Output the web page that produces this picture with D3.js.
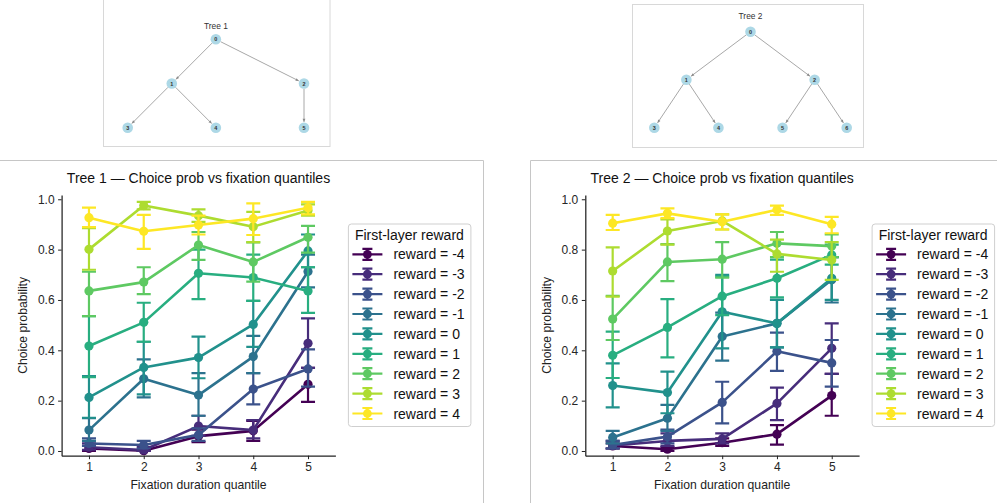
<!DOCTYPE html>
<html>
<head>
<meta charset="utf-8">
<script src="https://cdn.jsdelivr.net/npm/d3@7"></script>
<style>
  body { margin: 0; background: #fff; }
  svg { display: block; font-family: "Liberation Sans", Arial, sans-serif; }
</style>
</head>
<body>
<svg id="fig" width="997" height="503"></svg>
<script>
// ---- data ----
const quantiles = [1, 2, 3, 4, 5];
const rewards = [-4, -3, -2, -1, 0, 1, 2, 3, 4];
const yTickValues = [0, 0.2, 0.4, 0.6, 0.8, 1.0];

// Tree 1: mean choice probability per first-layer reward (rows) and quantile (cols)
const tree1Mean = [
  [0.010, 0.001, 0.059, 0.080, 0.265],
  [0.015, 0.004, 0.099, 0.083, 0.428],
  [0.030, 0.024, 0.064, 0.246, 0.326],
  [0.083, 0.287, 0.222, 0.375, 0.713],
  [0.213, 0.332, 0.371, 0.503, 0.795],
  [0.417, 0.511, 0.706, 0.689, 0.636],
  [0.636, 0.671, 0.818, 0.751, 0.849],
  [0.801, 0.975, 0.935, 0.891, 0.955],
  [0.927, 0.873, 0.898, 0.923, 0.966]
];
const tree1Lo = [
  [0.000, 0.000, 0.035, 0.040, 0.195],
  [0.005, 0.000, 0.060, 0.050, 0.330],
  [0.020, 0.010, 0.040, 0.185, 0.256],
  [0.040, 0.213, 0.140, 0.309, 0.650],
  [0.132, 0.225, 0.289, 0.414, 0.730],
  [0.293, 0.434, 0.603, 0.596, 0.549],
  [0.536, 0.623, 0.759, 0.673, 0.788],
  [0.720, 0.960, 0.910, 0.830, 0.935],
  [0.889, 0.803, 0.860, 0.858, 0.940]
];
const tree1Hi = [
  [0.020, 0.005, 0.085, 0.120, 0.330],
  [0.030, 0.015, 0.140, 0.123, 0.527],
  [0.050, 0.040, 0.090, 0.309, 0.404],
  [0.130, 0.364, 0.309, 0.457, 0.780],
  [0.298, 0.434, 0.454, 0.596, 0.860],
  [0.536, 0.589, 0.800, 0.780, 0.730],
  [0.712, 0.730, 0.870, 0.829, 0.894],
  [0.885, 0.990, 0.960, 0.950, 0.980],
  [0.967, 0.938, 0.935, 0.984, 0.990]
];

// Tree 2
const tree2Mean = [
  [0.020, 0.007, 0.033, 0.067, 0.220],
  [0.022, 0.040, 0.048, 0.189, 0.408],
  [0.024, 0.057, 0.193, 0.396, 0.350],
  [0.054, 0.130, 0.455, 0.507, 0.680],
  [0.260, 0.232, 0.553, 0.507, 0.686],
  [0.380, 0.491, 0.615, 0.686, 0.779],
  [0.524, 0.751, 0.762, 0.825, 0.814],
  [0.715, 0.874, 0.914, 0.783, 0.759],
  [0.905, 0.944, 0.911, 0.958, 0.901]
];
const tree2Lo = [
  [0.010, 0.000, 0.020, 0.025, 0.140],
  [0.010, 0.020, 0.030, 0.123, 0.306],
  [0.010, 0.030, 0.110, 0.318, 0.256],
  [0.030, 0.080, 0.359, 0.412, 0.590],
  [0.173, 0.150, 0.408, 0.412, 0.600],
  [0.290, 0.372, 0.540, 0.610, 0.740],
  [0.441, 0.675, 0.689, 0.770, 0.770],
  [0.613, 0.820, 0.880, 0.712, 0.680],
  [0.878, 0.925, 0.880, 0.938, 0.865]
];
const tree2Hi = [
  [0.030, 0.015, 0.050, 0.103, 0.306],
  [0.040, 0.070, 0.070, 0.252, 0.507],
  [0.040, 0.085, 0.275, 0.470, 0.441],
  [0.080, 0.183, 0.550, 0.600, 0.770],
  [0.348, 0.315, 0.700, 0.600, 0.770],
  [0.474, 0.603, 0.693, 0.760, 0.820],
  [0.616, 0.822, 0.830, 0.870, 0.860],
  [0.809, 0.920, 0.940, 0.840, 0.830],
  [0.938, 0.964, 0.940, 0.975, 0.930]
];

// Tree structures (parent -> child edges)
const tree1Edges = [[0, 1], [0, 2], [1, 3], [1, 4], [2, 5]];
const tree2Edges = [[0, 1], [0, 2], [1, 3], [1, 4], [2, 5], [2, 6]];

// ---- drawing ----
const svg = d3.select("#fig");
const color = i => d3.interpolateViridis(i / (rewards.length - 1));

// panel frames
const frame = svg.append("g").attr("fill", "none").attr("stroke", "#c6c6c6").attr("stroke-width", 1);
frame.append("path").attr("d", "M0,160.5H483.5V503");
frame.append("path").attr("d", "M997,160.5H530.5V503");

// ---- tree diagrams ----
function drawTree(edges, box, xRange, yRange, title, titleY) {
  const g = svg.append("g");
  g.append("rect").attr("x", box[0]).attr("y", box[1]).attr("width", box[2]).attr("height", box[3])
    .attr("fill", "none").attr("stroke", "#d8d8d8").attr("stroke-width", 1);

  const rows = [{ id: "0", parent: null }].concat(edges.map(e => ({ id: String(e[1]), parent: String(e[0]) })));
  const root = d3.stratify().id(d => d.id).parentId(d => d.parent)(rows);
  const leaves = root.leaves();
  leaves.forEach((l, i) => l.li = i);
  root.eachAfter(n => { if (n.children) n.li = d3.mean(n.leaves(), l => l.li); });

  const xs = d3.scaleLinear().domain([0, leaves.length - 1]).range(xRange);
  const ys = d3.scaleLinear().domain([0, root.height]).range(yRange);
  const r = 5.3;

  root.links().forEach(lk => {
    const x1 = xs(lk.source.li), y1 = ys(lk.source.depth);
    const x2 = xs(lk.target.li), y2 = ys(lk.target.depth);
    const len = Math.hypot(x2 - x1, y2 - y1);
    const ux = (x2 - x1) / len, uy = (y2 - y1) / len;
    const sx = x1 + ux * r, sy = y1 + uy * r;
    const ex = x2 - ux * (r + 0.5), ey = y2 - uy * (r + 0.5);
    g.append("line").attr("x1", sx).attr("y1", sy).attr("x2", ex).attr("y2", ey)
      .attr("stroke", "#a8a8a8").attr("stroke-width", 1);
    // arrow head
    const ah = 3.2, aw = 1.4;
    const bx = ex - ux * ah, by = ey - uy * ah;
    g.append("path")
      .attr("d", `M${ex},${ey}L${bx - uy * aw},${by + ux * aw}L${bx + uy * aw},${by - ux * aw}Z`)
      .attr("fill", "#8a8a8a");
  });

  root.descendants().forEach(n => {
    g.append("circle").attr("cx", xs(n.li)).attr("cy", ys(n.depth)).attr("r", r).attr("fill", "#add8e6");
    g.append("text").attr("x", xs(n.li)).attr("y", ys(n.depth) + 2)
      .attr("text-anchor", "middle").attr("font-size", 5.5).attr("font-weight", "bold")
      .attr("fill", "#333").text(n.id);
  });

  g.append("text").attr("x", xs(root.li)).attr("y", titleY)
    .attr("text-anchor", "middle").attr("font-size", 8.4).attr("fill", "#333").text(title);
}

drawTree(tree1Edges, [103.5, -2, 226.5, 148.5], [127.7, 304], [39.3, 127.7], "Tree 1", 29);
drawTree(tree2Edges, [632.5, 4.5, 231, 143], [654.3, 846.7], [31.7, 127.7], "Tree 2", 19);

// ---- point plots ----
const panels = [
  { title: "Tree 1 — Choice prob vs fixation quantiles", left: 61.6, right: 335.4, mean: tree1Mean, lo: tree1Lo, hi: tree1Hi },
  { title: "Tree 2 — Choice prob vs fixation quantiles", left: 585.3, right: 859.1, mean: tree2Mean, lo: tree2Lo, hi: tree2Hi }
];
const plotTop = 195, plotBottom = 455.7;

panels.forEach(p => {
  const g = svg.append("g");
  const x = d3.scaleLinear().domain([0.5, 5.5]).range([p.left, p.right]);
  const y = d3.scaleLinear().domain([-0.0187, 1.017]).range([plotBottom, plotTop]);

  const xAxis = g.append("g").attr("transform", `translate(0,${plotBottom})`)
    .call(d3.axisBottom(x).tickValues(quantiles).tickFormat(d3.format("d"))
      .tickSize(3.5).tickPadding(3.5).tickSizeOuter(0));
  const yAxis = g.append("g").attr("transform", `translate(${p.left},0)`)
    .call(d3.axisLeft(y).tickValues(yTickValues).tickFormat(d3.format(".1f"))
      .tickSize(3.5).tickPadding(3.5).tickSizeOuter(0));
  [xAxis, yAxis].forEach(a => {
    a.select(".domain").attr("stroke", "#222").attr("stroke-width", 1.25);
    a.selectAll(".tick line").attr("stroke", "#222").attr("stroke-width", 1);
    a.selectAll(".tick text").attr("font-size", 12).attr("fill", "#262626")
      .attr("font-family", "Liberation Sans, Arial, sans-serif");
  });

  g.append("text").attr("x", (p.left + p.right) / 2).attr("y", 182.5)
    .attr("text-anchor", "middle").attr("font-size", 14).attr("fill", "#111").text(p.title);
  g.append("text").attr("x", (p.left + p.right) / 2).attr("y", 488.5)
    .attr("text-anchor", "middle").attr("font-size", 12.2).attr("fill", "#222").text("Fixation duration quantile");
  g.append("text").attr("transform", `translate(${p.left - 34.5},${(plotTop + plotBottom) / 2}) rotate(-90)`)
    .attr("text-anchor", "middle").attr("font-size", 12.2).attr("fill", "#222").text("Choice probability");

  const line = d3.line().x((d, i) => x(quantiles[i])).y(d => y(d));
  rewards.forEach((rw, ri) => {
    const c = color(ri);
    const sg = g.append("g");
    sg.append("path").datum(p.mean[ri]).attr("d", line)
      .attr("fill", "none").attr("stroke", c).attr("stroke-width", 2.6).attr("stroke-linejoin", "round");
    quantiles.forEach((q, qi) => {
      const cx = x(q), y0 = y(p.lo[ri][qi]), y1 = y(p.hi[ri][qi]);
      sg.append("path").attr("d", `M${cx},${y0}V${y1}M${cx - 7},${y0}H${cx + 7}M${cx - 7},${y1}H${cx + 7}`)
        .attr("fill", "none").attr("stroke", c).attr("stroke-width", 2.2);
    });
    sg.selectAll("circle").data(p.mean[ri]).join("circle")
      .attr("cx", (d, i) => x(quantiles[i])).attr("cy", d => y(d)).attr("r", 4.6).attr("fill", c);
  });

  // legend
  const lx = p.right + 13, ly = 224;
  const lg = g.append("g");
  lg.append("rect").attr("x", lx).attr("y", ly).attr("width", 122.5).attr("height", 202.5)
    .attr("rx", 3).attr("fill", "#fff").attr("fill-opacity", 0.8).attr("stroke", "#cfcfcf").attr("stroke-width", 1);
  lg.append("text").attr("x", lx + 61).attr("y", ly + 15.5).attr("text-anchor", "middle")
    .attr("font-size", 14).attr("fill", "#111").text("First-layer reward");
  rewards.forEach((rw, ri) => {
    const c = color(ri);
    const cy = 254.3 + ri * 19.9;
    const mx = lx + 19;
    lg.append("path").attr("d", `M${lx + 4},${cy}H${lx + 34}M${mx},${cy - 5.5}V${cy + 5.5}M${mx - 5},${cy - 5.5}H${mx + 5}M${mx - 5},${cy + 5.5}H${mx + 5}`)
      .attr("fill", "none").attr("stroke", c).attr("stroke-width", 2.2);
    lg.append("circle").attr("cx", mx).attr("cy", cy).attr("r", 4.4).attr("fill", c);
    lg.append("text").attr("x", lx + 45).attr("y", cy + 5).attr("font-size", 14).attr("fill", "#111")
      .text(`reward = ${rw}`);
  });
});
</script>
</body>
</html>
